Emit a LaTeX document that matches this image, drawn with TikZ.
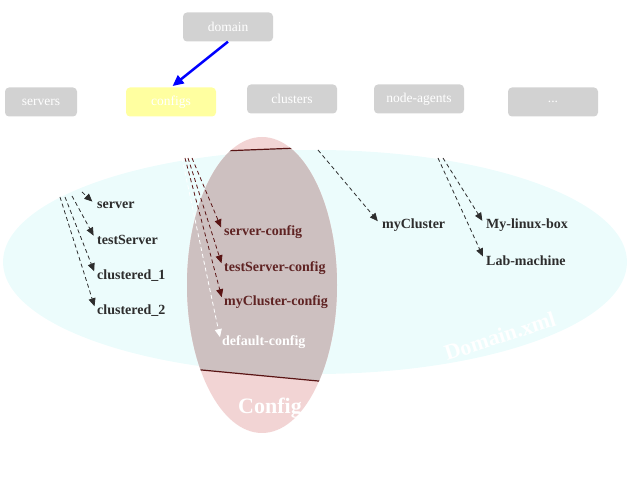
\documentclass[tikz,border=0pt]{standalone}
\usepackage{fontspec}
\setmainfont{Liberation Serif}
\usetikzlibrary{arrows.meta,positioning}

\definecolor{boxgray}{RGB}{210,210,210}
\definecolor{boxyellow}{RGB}{255,255,160}
\definecolor{domfill}{RGB}{236,252,252}
\definecolor{cfgcap}{RGB}{242,212,212}
\definecolor{cfgband}{RGB}{205,192,192}
\definecolor{cfgline}{RGB}{90,20,20}
\definecolor{cfgred}{RGB}{95,35,35}
\definecolor{leafgray}{RGB}{45,45,45}

\begin{document}
\begin{tikzpicture}[x=1pt, y=-1pt,
    box/.style={rectangle, rounded corners=4pt, fill=boxgray, text=white, minimum width=90pt, minimum height=29pt, inner sep=1pt, font=\fontsize{13.5}{15}\selectfont},
    leaf/.style={anchor=west, inner sep=1pt, text=leafgray, font=\fontsize{14}{16}\selectfont\bfseries},
    cfgleaf/.style={leaf, text=cfgred},
    dep/.style={dash pattern=on 4pt off 3pt, line width=0.8pt, -{Triangle[length=8pt,width=7pt]}, draw=leafgray, shorten >=5pt},
    biglbl/.style={text=white, font=\fontsize{22}{26}\selectfont\bfseries}
]
\useasboundingbox (0,0) rectangle (630,486);

% the two ellipses
\fill[domfill] (315,262) ellipse (312 and 112);
\fill[cfgcap] (262,285) ellipse (75 and 148);
\begin{scope}
  \clip (262,285) ellipse (75 and 148);
  \fill[cfgband] (170,153) -- (350,146) -- (350,384) -- (170,367) -- cycle;
  \draw[cfgline, line width=1.2pt] (170,153) -- (350,146);
  \draw[cfgline, line width=1.2pt] (170,367) -- (350,384);
\end{scope}
\node[biglbl, rotate=18] (domlbl) at (500,336) {Domain.xml};
\node[biglbl] (cfglbl) at (270,408) {Config};

% top boxes
\node[box] (domain) at (228,27) {domain};
\node[box, minimum width=72pt] (servers) at (41,102) {servers};
\node[box, fill=boxyellow] (configs) at (171,102) {configs};
\node[box] (clusters) at (292,99) {clusters};
\node[box] (agents) at (419,99) {node-agents};
\node[box] (more) at (553,102) {...};
\draw[-{Triangle[length=11pt,width=10pt]}, blue, line width=2.5pt, shorten >=2pt] (domain.south) -- (configs.north);

% servers
\node[leaf] (server) at (96,205) {server};
\node[leaf] (testserver) at (96,240) {testServer};
\node[leaf] (clustered1) at (96,276) {clustered\_1};
\node[leaf] (clustered2) at (96,311) {clustered\_2};
\coordinate (s1) at (82,192);
\coordinate (s2) at (72,196);
\coordinate (s3) at (65,197);
\coordinate (s4) at (60,197);
\draw[dep] (s1) -- (server.west);
\draw[dep] (s2) -- (testserver.west);
\draw[dep] (s3) -- (clustered1.west);
\draw[dep] (s4) -- (clustered2.west);

% configs
\node[cfgleaf] (srvcfg) at (223,232) {server-config};
\node[cfgleaf] (testcfg) at (223,268) {testServer-config};
\node[cfgleaf] (clucfg) at (223,302) {myCluster-config};
\node[leaf, text=white] (defcfg) at (221,342) {default-config};
\coordinate (c1) at (192,158);
\coordinate (c2) at (188,158);
\coordinate (c3) at (185,158);
\coordinate (c4) at (182,158);
\draw[dep, draw=cfgline] (c1) -- (srvcfg.west);
\draw[dep, draw=cfgline] (c2) -- (testcfg.west);
\draw[dep, draw=cfgline] (c3) -- (clucfg.west);
\draw[dep, draw=white] (c4) -- (defcfg.west);

% clusters
\node[leaf] (mycluster) at (381,225) {myCluster};
\coordinate (k1) at (318,150);
\draw[dep] (k1) -- (mycluster.west);

% node-agents
\node[leaf] (linuxbox) at (485,225) {My-linux-box};
\node[leaf] (labmachine) at (485,261) {Lab-machine};
\coordinate (a1) at (443,158);
\coordinate (a2) at (438,158);
\draw[dep] (a1) -- (linuxbox.west);
\draw[dep] (a2) -- (labmachine.west);
\end{tikzpicture}
\end{document}
